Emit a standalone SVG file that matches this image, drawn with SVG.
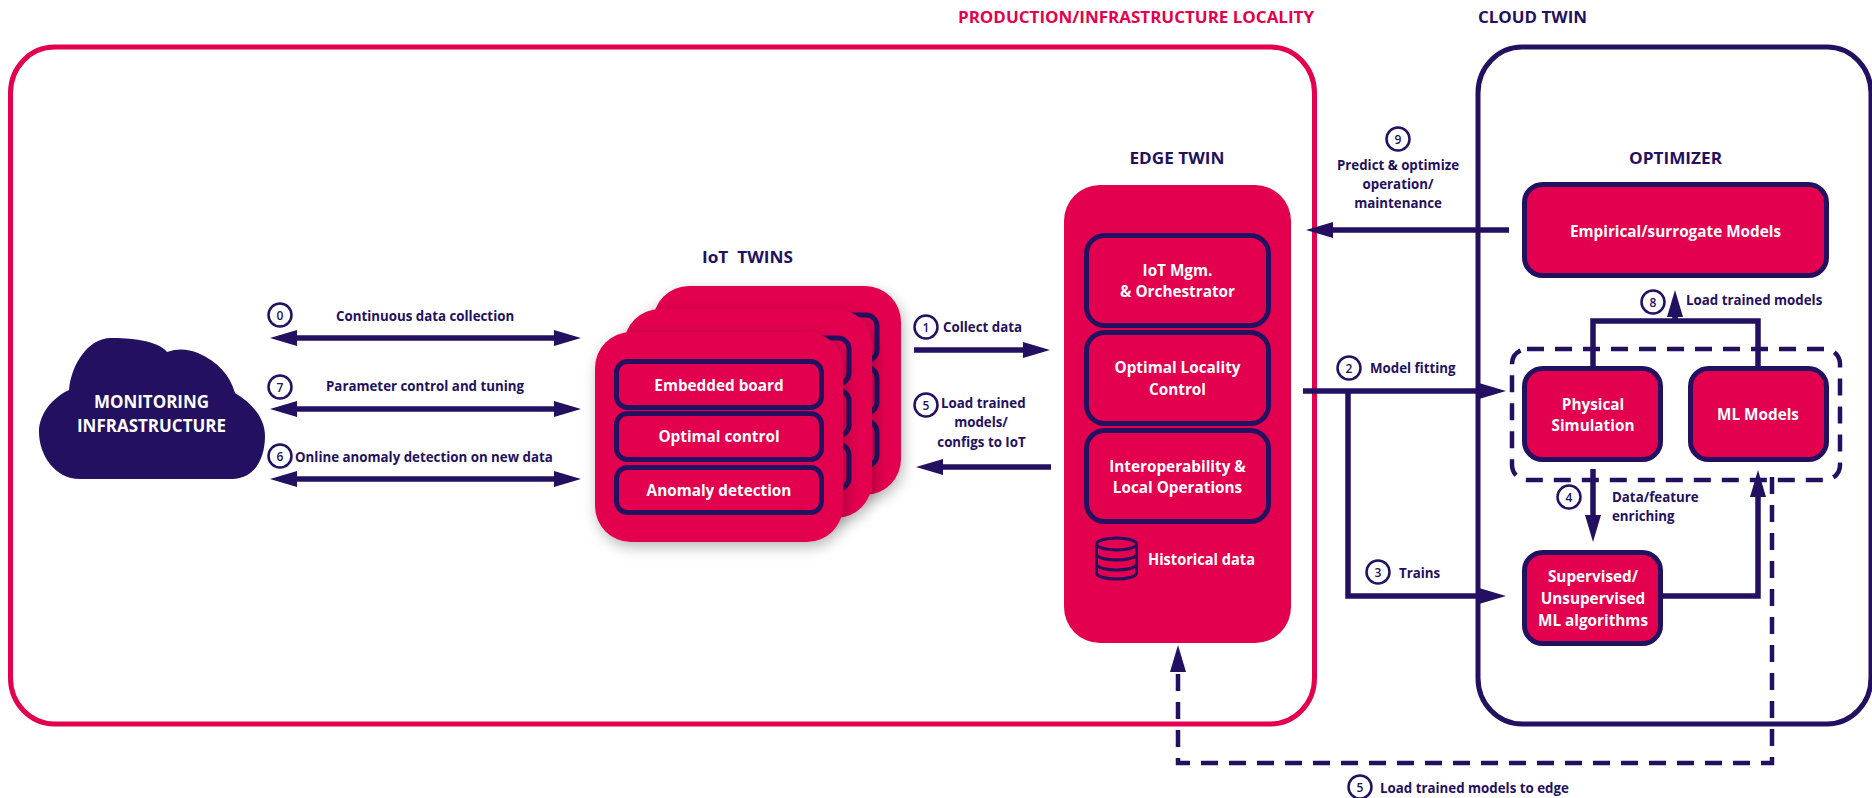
<svg xmlns="http://www.w3.org/2000/svg" width="1872" height="798" viewBox="0 0 1872 798">
<style>
text{font-family:"Open Sans","Liberation Sans",sans-serif;font-weight:700;font-size:13.3px;fill:#241060;white-space:pre}
.w{fill:#fff;font-size:15.3px}
.t{font-size:16.5px}
.m{text-anchor:middle}
.r{fill:#E2004F}
.box{fill:#E2004F;stroke:#241060;stroke-width:5}
.card{fill:#E2004F;filter:url(#sh)}
.c{fill:none;stroke:#241060;stroke-width:5.5}
.d{fill:none;stroke:#241060;stroke-width:4.5;stroke-dasharray:17 11}
.n{fill:#fff;stroke:#241060;stroke-width:2.5}
.dg{font-size:12px;font-weight:600;text-anchor:middle}
</style>
<defs>
<marker id="a" markerUnits="userSpaceOnUse" markerWidth="28" markerHeight="18" viewBox="0 0 28 18" refX="1" refY="9" orient="auto-start-reverse"><path d="M0 1L27 9L0 17Z" fill="#241060"/></marker>
<filter id="sh" x="-15%" y="-15%" width="130%" height="130%"><feDropShadow dx="2" dy="5" stdDeviation="7" flood-color="#000" flood-opacity=".28"/></filter>
</defs>
<g id="production-locality"><rect x="10.5" y="47" width="1304" height="677" rx="44" ry="46" fill="#fff" stroke="#E2004F" stroke-width="5"/><text x="958" y="23" class="t r" textLength="356" lengthAdjust="spacingAndGlyphs">PRODUCTION/INFRASTRUCTURE LOCALITY</text></g>
<g id="cloud-twin"><rect x="1478" y="47" width="393" height="677" rx="44" ry="46" fill="#fff" stroke="#241060" stroke-width="5"/><text x="1478" y="23" class="t" textLength="109" lengthAdjust="spacingAndGlyphs">CLOUD TWIN</text></g>
<g id="monitoring"><path d="M80 479C55 479 39 455 39 432C39 414 52 398 69 390C71 365 88 338 111 338C128 338 158 340 167 352C178 348 188 349 198 353C218 362 230 375 235 393C255 405 265 420 265 436C265 458 255 479 232 479Z" fill="#241060"/><text x="151.5" y="408" class="w m" style="font-size:18px" textLength="115" lengthAdjust="spacingAndGlyphs">MONITORING</text><text x="151.5" y="432" class="w m" style="font-size:18px" textLength="149" lengthAdjust="spacingAndGlyphs">INFRASTRUCTURE</text></g>
<g id="iot-twins"><text x="747.5" y="263" class="t m" textLength="91" lengthAdjust="spacingAndGlyphs">IoT  TWINS</text>
<g id="iot-back"><rect x="653" y="286" width="248" height="209" rx="36" class="card"/><rect x="672" y="315" width="205" height="46" rx="11" class="box"/><rect x="672" y="367" width="205" height="46" rx="11" class="box"/><rect x="672" y="421" width="205" height="45" rx="11" class="box"/></g>
<g id="iot-middle"><rect x="624" y="309" width="248" height="209" rx="36" class="card"/><rect x="644" y="338" width="205" height="46" rx="11" class="box"/><rect x="644" y="390" width="205" height="46" rx="11" class="box"/><rect x="644" y="444" width="205" height="45" rx="11" class="box"/></g>
<g id="iot-front"><rect x="595" y="332" width="248" height="210" rx="36" class="card"/>
<rect x="616.5" y="361.5" width="205" height="46" rx="11" class="box"/><text x="719" y="391" class="w m">Embedded board</text>
<rect x="616.5" y="413.5" width="205" height="46" rx="11" class="box"/><text x="719" y="442" class="w m">Optimal control</text>
<rect x="616.5" y="467.5" width="205" height="45" rx="11" class="box"/><text x="719" y="496" class="w m">Anomaly detection</text></g></g>
<g id="edge-twin"><text x="1177" y="164" class="t m" textLength="95" lengthAdjust="spacingAndGlyphs">EDGE TWIN</text><rect x="1064" y="185" width="227" height="458" rx="36" fill="#E2004F"/>
<g id="edge-iot"><rect x="1086.5" y="235.5" width="182" height="90" rx="18" class="box"/><text x="1177.5" y="276" class="w m">IoT Mgm.</text><text x="1177.5" y="297" class="w m">&amp; Orchestrator</text></g>
<g id="edge-locality"><rect x="1086.5" y="332.5" width="182" height="91" rx="18" class="box"/><text x="1177.5" y="373" class="w m">Optimal Locality</text><text x="1177.5" y="395" class="w m">Control</text></g>
<g id="edge-interop"><rect x="1086.5" y="430.5" width="182" height="91" rx="18" class="box"/><text x="1177.5" y="472" class="w m">Interoperability &amp;</text><text x="1177.5" y="493" class="w m">Local Operations</text></g>
<g id="edge-history" fill="none" stroke="#241060" stroke-width="3"><ellipse cx="1116.5" cy="544" rx="20" ry="6"/><path d="M1096.5 544V573C1096.5 577 1107 579 1116.5 579S1136.5 577 1136.5 573V544M1096.5 554C1096.5 558 1107 560 1116.5 560S1136.5 558 1136.5 554M1096.5 564C1096.5 568 1107 570 1116.5 570S1136.5 568 1136.5 564"/></g><text x="1148" y="565" class="w" textLength="107" lengthAdjust="spacingAndGlyphs">Historical data</text></g>
<g id="optimizer"><text x="1675.5" y="164" class="t m" textLength="93" lengthAdjust="spacingAndGlyphs">OPTIMIZER</text></g>
<g id="connectors">
<path class="c" d="M296 338H555" marker-start="url(#a)" marker-end="url(#a)"/>
<path class="c" d="M296 409H555" marker-start="url(#a)" marker-end="url(#a)"/>
<path class="c" d="M296 479H555" marker-start="url(#a)" marker-end="url(#a)"/>
<path class="c" d="M914 350H1024" marker-end="url(#a)"/>
<path class="c" d="M1051 467H942" marker-end="url(#a)"/>
<path class="c" d="M1509 230H1332" marker-end="url(#a)"/>
<path class="c" d="M1303 391H1480" marker-end="url(#a)"/>
<path class="c" d="M1348 391V596H1480" marker-end="url(#a)"/>
<path class="c" d="M1593 366V321H1758V366"/>
<path class="c" d="M1675 321V316" marker-end="url(#a)"/>
<path class="c" d="M1593 469V516" marker-end="url(#a)"/>
<path class="c" d="M1663 596H1758V496" marker-end="url(#a)"/>
<rect class="d" x="1512" y="349" width="328" height="131" rx="15"/>
<path class="d" d="M1772 477V763H1178V671" marker-end="url(#a)"/>
</g>
<g id="empirical"><rect x="1524.5" y="184.5" width="302" height="91" rx="18" class="box"/><text x="1675.5" y="237" class="w m">Empirical/surrogate Models</text></g>
<g id="physical"><rect x="1524.5" y="368.5" width="136" height="91" rx="18" class="box"/><text x="1593" y="410" class="w m">Physical</text><text x="1593" y="431" class="w m">Simulation</text></g>
<g id="ml-models"><rect x="1690.5" y="368.5" width="136" height="91" rx="18" class="box"/><text x="1758" y="420" class="w m">ML Models</text></g>
<g id="supervised"><rect x="1524.5" y="552.5" width="136" height="91" rx="18" class="box"/><text x="1593" y="582" class="w m">Supervised/</text><text x="1593" y="604" class="w m">Unsupervised</text><text x="1593" y="626" class="w m">ML algorithms</text></g>
<g id="labels">
<circle class="n" cx="280" cy="315" r="11.5"/><text class="dg" x="280" y="319.5">0</text><text x="336" y="321">Continuous data collection</text>
<circle class="n" cx="280" cy="387" r="11.5"/><text class="dg" x="280" y="391.5">7</text><text x="326" y="391">Parameter control and tuning</text>
<circle class="n" cx="280" cy="456" r="11.5"/><text class="dg" x="280" y="460.5">6</text><text x="295" y="462">Online anomaly detection on new data</text>
<circle class="n" cx="926" cy="327" r="11.5"/><text class="dg" x="926" y="331.5">1</text><text x="943" y="332">Collect data</text>
<circle class="n" cx="926" cy="405" r="11.5"/><text class="dg" x="926" y="409.5">5</text><text x="941" y="408">Load trained</text><text x="981" y="427" class="m">models/</text><text x="981.5" y="447" class="m">configs to IoT</text>
<circle class="n" cx="1398" cy="139" r="11.5"/><text class="dg" x="1398" y="143.5">9</text><text x="1398" y="170" class="m">Predict &amp; optimize</text><text x="1398" y="189" class="m">operation/</text><text x="1398" y="208" class="m">maintenance</text>
<circle class="n" cx="1653" cy="302" r="11.5"/><text class="dg" x="1653" y="306.5">8</text><text x="1686" y="305">Load trained models</text>
<circle class="n" cx="1349" cy="368" r="11.5"/><text class="dg" x="1349" y="372.5">2</text><text x="1370" y="373">Model fitting</text>
<circle class="n" cx="1569" cy="497" r="11.5"/><text class="dg" x="1569" y="501.5">4</text><text x="1612" y="502">Data/feature</text><text x="1612" y="521">enriching</text>
<circle class="n" cx="1378" cy="572" r="11.5"/><text class="dg" x="1378" y="576.5">3</text><text x="1399" y="578">Trains</text>
<circle class="n" cx="1360" cy="787" r="11.5"/><text class="dg" x="1360" y="791.5">5</text><text x="1380" y="793">Load trained models to edge</text>
</g>
</svg>
